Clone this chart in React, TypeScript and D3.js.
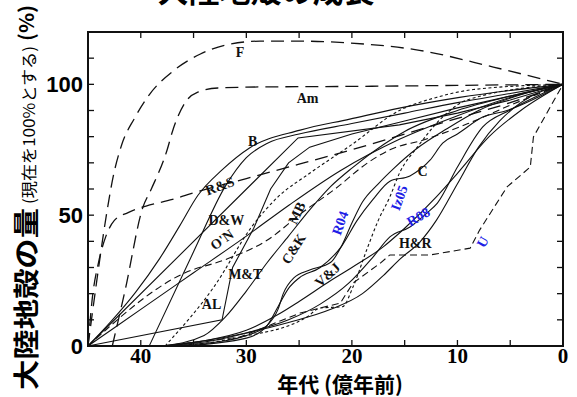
import * as d3 from "d3";

// age in 100 Myr (45 = 4.5 Ga), crust volume in % of present
const xTicks = [40, 30, 20, 10, 0];
const yTicks = [0, 50, 100];

const fyfe = [[45,0],[44.2,24],[43.3,49],[42.6,65],[41.8,77],[40.6,87],[39.2,96],[36.8,105.5],[34.4,111.5],[32,115],[28.7,116.5],[24.9,116.5],[20.2,115.8],[13.6,113],[6.6,106.6],[0,100]];
const armstrong = [[42.7,0],[41.5,21],[39.8,53],[39,60],[37.5,75],[37,82],[35.8,93],[34.6,97],[32.7,98.6],[28.7,99],[20,99.2],[10,99.6],[0,100]];
const reymer = [[45,0],[44.6,18],[44,32],[43.3,42],[42.5,48],[41.2,51],[39.5,53.5],[37,56],[35,58.5],[30,64],[25,69.5],[20,75],[15,81],[10,87],[5,93],[0,100]];
const brown = [[45,0],[42.9,9],[40.5,20.5],[38.2,33.5],[36.3,46],[34.6,57.5],[32.3,67.3],[29.7,75.7],[24.9,82.5],[20.2,86.7],[15.5,90.9],[9.8,95],[0,100]];
const dewey = [[39.2,0],[35,36],[32,61],[30,72],[28,77.5],[25,81],[20,85],[15,89],[10,93],[5,96.5],[0,100]];
const kinked = [[45,0],[25.1,79.5],[15.5,84.5],[10,89],[5,94],[0,100]];
const onions = [[45,0],[40,14],[35,28],[30,42],[25.9,54],[21.1,67],[15.5,79],[10,88],[5,95],[0,100]];
const mclennan = [[45,0],[32.3,10],[31.3,30],[29.3,45],[27.7,60],[26,70],[24,76],[20,81],[15,86],[10,91],[5,95.5],[0,100]];
const allegre = [[37.7,0],[33,23],[29.5,45.5],[27,57],[24,66],[20,77],[15.5,90],[12,95],[8.5,98],[0,100]];
const mcculloch = [[45,0],[35.8,28],[32,33],[28,40.5],[24.7,51],[21.6,60],[18.5,70],[16.4,75],[13,79],[9,85],[5,92],[0,100]];
const collerson = [[38,0],[34,4],[32,11],[30,21],[28,32],[26,42],[24,52],[22,61],[20,68],[17,77],[15,82],[10,90],[5,95.5],[0,100]];
const veizer = [[38,0],[34,2],[30,6],[27,12],[25,17],[22,25],[20,30],[17,38],[15,45],[12,57],[10,66],[7,80],[4,90],[0,100]];
const condie = [[36,0],[30,3],[28,8],[27,15],[26,22],[25,26],[23,30],[21,38],[19.5,48],[18,56],[16.4,63],[14.5,65],[12.6,71],[11.4,77.5],[10,81],[7.6,87.5],[5.3,90],[0,100]];
const rino04 = [[38,0],[32,2],[30,4],[28,8],[27,14],[26.5,20],[25.5,26],[24,29],[22,32],[21,38],[20,47],[19,55],[17.5,62],[16,68],[14,75],[11,83],[8,90],[4,96],[0,100]];
const iizuka = [[38,0],[34,1],[30.6,3.4],[24.3,11],[23,14.5],[20.9,15],[19.9,22.5],[18.6,36.7],[17.5,48],[16.4,57],[15.5,66],[13.8,76],[11,89],[9.1,94],[0,100]];
const rino08 = [[38,0],[34,1.5],[30,5],[26,10],[23,16],[20.3,24],[18,34],[16.4,41.7],[14.5,45.5],[12.9,50.8],[11.9,54.6],[10,68.4],[7.6,83.7],[5,90.2],[0,100]];
const hurley = [[38,0],[34,2],[30,5],[26,9],[22,14],[19,20],[17,27],[15.5,33],[13.5,40],[12,48],[10,62],[8,76],[6,86],[4,93],[0,100]];
const uCurve = [[38,0],[30.6,3.4],[24.9,12.6],[21.1,16.4],[19.9,24],[17.3,31.7],[16.4,34.8],[12.6,34.8],[8.8,37.4],[7.9,44.3],[5.3,60.8],[3.1,68.4],[2.8,79.9],[0,100]];

const LONG = "13,7";
const MED = "7,4";
const DOT = "3,2.5";

const series = [
  { pts: fyfe, dash: LONG, smooth: true },
  { pts: armstrong, dash: LONG, smooth: true },
  { pts: reymer, dash: LONG, smooth: true },
  { pts: brown, dash: null, smooth: true },
  { pts: dewey, dash: null, smooth: true },
  { pts: kinked, dash: null, smooth: false },
  { pts: onions, dash: null, smooth: true },
  { pts: mclennan, dash: null, smooth: false },
  { pts: allegre, dash: DOT, smooth: true },
  { pts: mcculloch, dash: MED, smooth: true },
  { pts: collerson, dash: null, smooth: true },
  { pts: veizer, dash: null, smooth: true },
  { pts: condie, dash: null, smooth: true },
  { pts: rino04, dash: null, smooth: true },
  { pts: iizuka, dash: DOT, smooth: true },
  { pts: rino08, dash: null, smooth: true },
  { pts: hurley, dash: null, smooth: true },
  { pts: uCurve, dash: MED, smooth: false },
];

// curve labels: text, age, %, rotation, blue?
const labels: [string, number, number, number, boolean][] = [
  ["F", 30.6, 112, 0, false],
  ["Am", 24.2, 94.4, 0, false],
  ["B", 29.4, 78, 0, false],
  ["R&S", 32.5, 61.1, -20, false],
  ["D&W", 31.9, 48.1, 0, false],
  ["O'N", 32.3, 40.5, -35, false],
  ["M&T", 30.1, 27.5, 0, false],
  ["AL", 33.3, 15.7, 0, false],
  ["MB", 25.2, 50.8, -65, false],
  ["C&K", 25.5, 37.1, -58, false],
  ["V&J", 22.3, 27.1, -42, false],
  ["R04", 21.1, 47, -70, true],
  ["Iz05", 15.5, 56.6, -70, true],
  ["C", 13.3, 66.5, 0, false],
  ["R08", 13.7, 49.3, -30, true],
  ["H&R", 14.0, 39, 0, false],
  ["U", 7.6, 39.7, -60, true],
];

const W = 577;
const H = 397;

export default function App() {
  const x = d3.scaleLinear().domain([45, 0]).range([88, 563]);
  const y = d3.scaleLinear().domain([0, 120]).range([346, 32]);

  const lineSmooth = d3.line<number[]>().x((d) => x(d[0])).y((d) => y(d[1])).curve(d3.curveMonotoneX);
  const lineStraight = d3.line<number[]>().x((d) => x(d[0])).y((d) => y(d[1]));

  const serif = "'Liberation Serif', 'Times New Roman', serif";
  const sans = "'Liberation Sans', Arial, sans-serif";
  const cjk = "'Noto Sans CJK JP', sans-serif";

  const xMinor = d3.range(45, -1, -5);
  const yMinor = d3.range(0, 121, 10);

  return (
    <svg width={W} height={H} style={{ position: "absolute", left: 0, top: 0, background: "#fff" }}>
      {/* title, mostly cut off by the top edge */}
      <text x={266} y={2} textAnchor="middle" fontFamily={cjk} fontWeight={700} fontSize={31}>
        大陸地殻の成長
      </text>

      {/* curves */}
      <g fill="none" stroke="#111">
        {series.map((s, i) => (
          <path
            key={i}
            d={(s.smooth ? lineSmooth : lineStraight)(s.pts) ?? undefined}
            strokeWidth={s.dash === LONG ? 1.3 : 1.1}
            strokeDasharray={s.dash ?? undefined}
          />
        ))}
      </g>

      {/* frame + ticks */}
      <rect x={88} y={32} width={475} height={314} fill="none" stroke="#111" strokeWidth={2} />
      {xMinor.map((t) => (
        <g key={"xt" + t} stroke="#111" strokeWidth={1.3}>
          <line x1={x(t)} x2={x(t)} y1={346} y2={340} />
          <line x1={x(t)} x2={x(t)} y1={32} y2={38} />
        </g>
      ))}
      {yMinor.map((t) => (
        <g key={"yt" + t} stroke="#111" strokeWidth={1.3}>
          <line x1={88} x2={94} y1={y(t)} y2={y(t)} />
          <line x1={563} x2={557} y1={y(t)} y2={y(t)} />
        </g>
      ))}

      {/* curve labels */}
      {labels.map(([t, a, p, r, blue]) => (
        <text
          key={t}
          x={x(a)}
          y={y(p)}
          transform={r ? `rotate(${r},${x(a)},${y(p)})` : undefined}
          textAnchor="middle"
          dominantBaseline="central"
          fontFamily={serif}
          fontWeight={700}
          fontSize={14}
          fill={blue ? "#1f1fe6" : "#111"}
        >
          {t}
        </text>
      ))}

      {/* x tick labels */}
      {xTicks.map((t) => (
        <text key={"xl" + t} x={x(t)} y={363} textAnchor="middle" fontFamily={serif} fontWeight={700} fontSize={21}>
          {t}
        </text>
      ))}
      {/* y tick labels */}
      {yTicks.map((t) => (
        <text key={"yl" + t} x={83} y={y(t) + 8} textAnchor="end" fontFamily={sans} fontWeight={700} fontSize={22}>
          {t}
        </text>
      ))}

      {/* axis titles */}
      <text x={340} y={392} textAnchor="middle" fontFamily={cjk} fontWeight={700} fontSize={21}>
        年代 (億年前)
      </text>
      <g transform="rotate(-90)">
        <text x={-390} y={36} fontFamily={cjk} fontWeight={700} fontSize={26} textLength={182} lengthAdjust="spacingAndGlyphs">
          大陸地殻の量
        </text>
        <text x={-204} y={35} fontFamily={cjk} fontSize={16} textLength={158} lengthAdjust="spacingAndGlyphs">
          (現在を100%とする)
        </text>
        <text x={-41} y={34} fontFamily={cjk} fontWeight={700} fontSize={20} textLength={36} lengthAdjust="spacingAndGlyphs">
          (%)
        </text>
      </g>
    </svg>
  );
}
